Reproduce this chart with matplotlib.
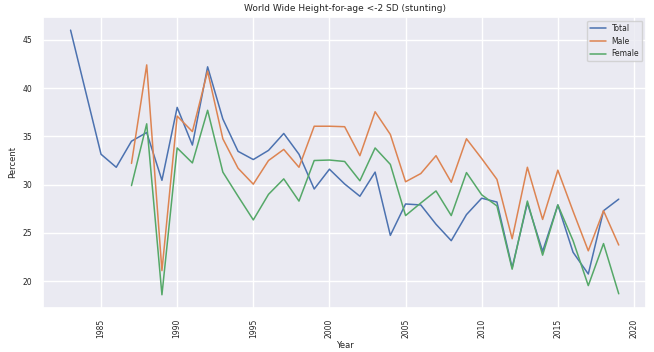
import matplotlib
matplotlib.use("Agg")
import matplotlib.pyplot as plt
import seaborn as sns

years_total = list(range(1983, 2020))
years_sex = list(range(1987, 2020))

total = [46.0, None, 33.15, 31.8, 34.5, 35.4, 30.45, 38.0, 34.1, 42.2, 36.8, 33.45, 32.6,
         33.55, 35.3, 33.15, 29.55, 31.6, 30.07, 28.8, 31.3, 24.75, 28.0, 27.9, 25.9,
         24.2, 26.9, 28.6, 28.2, 21.4, 28.1, 23.1, 27.9, 23.0, 20.75, 27.3, 28.5]
male = [32.2, 42.4, 21.1, 37.1, 35.5, 41.75, 34.75, 31.7, 30.05,
        32.5, 33.65, 31.8, 36.05, 36.05, 36.0, 33.0, 37.55, 35.2, 30.3, 31.15, 33.0,
        30.25, 34.75, 32.7, 30.55, 24.4, 31.8, 26.4, 31.5, 27.25, 23.15, 27.3, 23.75]
female = [29.9, 36.3, 18.6, 33.8, 32.25, 37.7, 31.3, 28.8, 26.35,
          29.0, 30.6, 28.3, 32.5, 32.55, 32.4, 30.4, 33.8, 32.1, 26.8, 28.1, 29.35,
          26.8, 31.25, 28.95, 27.8, 21.25, 28.3, 22.7, 27.9, 24.2, 19.55, 23.9, 18.7]

# 1984 missing in the total series -> drop it so the line connects
tx = [y for y, v in zip(years_total, total) if v is not None]
tv = [v for v in total if v is not None]

sns.set_theme(style="darkgrid")
fig = plt.figure(figsize=(6.54, 3.52), dpi=100)
ax = fig.add_axes([0.066, 0.125, 0.922, 0.827])

ax.plot(tx, tv, label="Total", lw=1.1)
ax.plot(years_sex, male, label="Male", lw=1.1)
ax.plot(years_sex, female, label="Female", lw=1.1)

ax.set_title("World Wide Height-for-age <-2 SD (stunting)", fontsize=6.5, pad=4)
ax.set_xlabel("Year", fontsize=6, labelpad=2)
ax.set_ylabel("Percent", fontsize=6, labelpad=4)
ax.tick_params(axis="both", labelsize=5.5, pad=2)
plt.setp(ax.get_xticklabels(), rotation=90)
ax.legend(loc="upper right", fontsize=5.5)

fig.savefig("out.png", dpi=100)
